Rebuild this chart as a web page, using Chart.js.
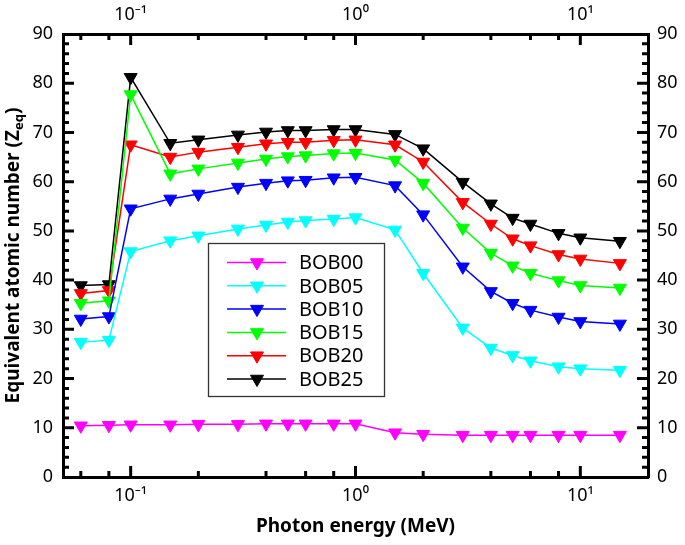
<!DOCTYPE html>
<html>
<head>
<meta charset="utf-8">
<script src="https://cdn.jsdelivr.net/npm/chart.js@4.4.1/dist/chart.umd.min.js"></script>
<style>
  html, body { margin: 0; padding: 0; background: #fff; }
  #wrap { width: 685px; height: 545px; }
</style>
</head>
<body>
<div id="wrap"><canvas id="chart" width="685" height="545"></canvas></div>
<script>
// photon energies (MeV)
const energies = [0.06, 0.08, 0.1, 0.15, 0.2, 0.3, 0.4, 0.5, 0.6, 0.8, 1, 1.5, 2, 3, 4, 5, 6, 8, 10, 15];

const seriesNames = ["BOB00", "BOB05", "BOB10", "BOB15", "BOB20", "BOB25"];
const seriesColors = ["#ff00ff", "#00ffff", "#0000ff", "#00ff00", "#ff0000", "#000000"];

const bob00 = [10.4, 10.5, 10.6, 10.6, 10.7, 10.7, 10.8, 10.8, 10.8, 10.8, 10.8, 9.0, 8.7, 8.5, 8.5, 8.5, 8.5, 8.5, 8.5, 8.5];
const bob05 = [27.4, 27.8, 45.8, 48.0, 49.0, 50.4, 51.2, 51.8, 52.1, 52.4, 52.7, 50.2, 41.4, 30.3, 26.2, 24.7, 23.6, 22.4, 22.0, 21.7];
const bob10 = [32.1, 32.6, 54.5, 56.5, 57.5, 58.9, 59.7, 60.2, 60.3, 60.8, 60.9, 59.2, 53.3, 42.7, 37.7, 35.3, 33.9, 32.5, 31.6, 31.1];
const bob15 = [35.3, 35.8, 77.7, 61.6, 62.6, 63.8, 64.6, 65.1, 65.3, 65.7, 65.8, 64.4, 59.7, 50.6, 45.5, 42.9, 41.4, 39.9, 38.9, 38.4];
const bob20 = [37.3, 37.9, 67.5, 65.0, 66.0, 67.0, 67.7, 68.0, 68.0, 68.4, 68.5, 67.5, 64.0, 55.8, 51.4, 48.4, 47.0, 45.2, 44.3, 43.4];
const bob25 = [38.9, 39.1, 81.2, 67.8, 68.5, 69.5, 70.1, 70.4, 70.4, 70.6, 70.6, 69.6, 66.7, 59.9, 55.5, 52.6, 51.4, 49.5, 48.6, 47.9];
const seriesValues = [bob00, bob05, bob10, bob15, bob20, bob25];

// axis ticks
const xTickValues = [0.1, 1, 10];
const xTickLabels = ["10⁻¹", "10⁰", "10¹"];
const xMinorTicks = [0.06, 0.08, 0.2, 0.4, 0.6, 0.8, 2, 4, 6, 8];
const yMajorTicks = [10, 20, 30, 40, 50, 60, 70, 80];
const yMinorTicks = [2, 4, 6, 8, 12, 14, 16, 18, 22, 24, 26, 28, 32, 34, 36, 38, 42, 44, 46, 48,
                     52, 54, 56, 58, 62, 64, 66, 68, 72, 74, 76, 78, 82, 84, 86, 88];

Chart.defaults.font.family = '"Noto Sans", "DejaVu Sans", sans-serif';
Chart.defaults.color = "#000";

const tickFont = { size: 18 };

// inward tick marks on all four sides
const frameTicks = {
  id: "frameTicks",
  afterDraw(chart) {
    const { ctx, chartArea: a, scales } = chart;
    const x = scales.x, y = scales.y;
    ctx.save();
    ctx.strokeStyle = "#000";
    ctx.lineWidth = 3;
    ctx.beginPath();
    const hTick = (v, len) => {
      const p = y.getPixelForValue(v);
      ctx.moveTo(a.left, p); ctx.lineTo(a.left + len, p);
      ctx.moveTo(a.right, p); ctx.lineTo(a.right - len, p);
    };
    const vTick = (v, len) => {
      const p = x.getPixelForValue(v);
      ctx.moveTo(p, a.bottom); ctx.lineTo(p, a.bottom - len);
      ctx.moveTo(p, a.top); ctx.lineTo(p, a.top + len);
    };
    yMajorTicks.forEach(v => hTick(v, 11));
    yMinorTicks.forEach(v => hTick(v, 6));
    xTickValues.forEach(v => vTick(v, 11));
    xMinorTicks.forEach(v => vTick(v, 6));
    ctx.stroke();
    ctx.restore();
  }
};

// y title with subscript
const yTitle = {
  id: "yTitle",
  afterDraw(chart) {
    const { ctx, chartArea: a } = chart;
    const mainFont = 'bold 19px "Noto Sans"';
    const subFont = 'bold 13px "Noto Sans"';
    const main = "Equivalent atomic number (Z", sub = "eq", end = ")";
    ctx.save();
    ctx.translate(14, (a.top + a.bottom) / 2);
    ctx.rotate(-Math.PI / 2);
    ctx.fillStyle = "#000";
    ctx.textBaseline = "middle";
    ctx.textAlign = "left";
    ctx.font = mainFont;
    const w1 = ctx.measureText(main).width, w3 = ctx.measureText(end).width;
    ctx.font = subFont;
    const w2 = ctx.measureText(sub).width;
    let cx = -(w1 + w2 + w3) / 2;
    ctx.font = mainFont;
    ctx.fillText(main, cx, 0); cx += w1;
    ctx.font = subFont;
    ctx.fillText(sub, cx, 5); cx += w2;
    ctx.font = mainFont;
    ctx.fillText(end, cx, 0);
    ctx.restore();
  }
};

// boxed legend inside the plot
const boxLegend = {
  id: "boxLegend",
  afterDraw(chart) {
    const ctx = chart.ctx;
    ctx.save();
    ctx.strokeStyle = "#333";
    ctx.lineWidth = 1.3;
    ctx.strokeRect(208.5, 243.5, 176, 153);
    ctx.font = '20px "Noto Sans"';
    ctx.textBaseline = "middle";
    ctx.textAlign = "left";
    chart.data.datasets.forEach((ds, i) => {
      const ly = 262.5 + i * 23.3;
      ctx.strokeStyle = ds.borderColor;
      ctx.lineWidth = 1.5;
      ctx.beginPath();
      ctx.moveTo(227, ly); ctx.lineTo(286, ly);
      ctx.stroke();
      ctx.fillStyle = ds.backgroundColor;
      ctx.strokeStyle = ds.borderColor;
      ctx.lineWidth = 1;
      Chart.helpers.drawPoint(ctx, { pointStyle: "triangle", radius: 7.5, rotation: 180, borderWidth: 1 }, 257, ly);
      ctx.fillStyle = "#000";
      ctx.fillText(ds.label, 299, ly + 1);
    });
    ctx.restore();
  }
};

const datasets = seriesNames.map((name, i) => ({
  label: name,
  data: energies.map((e, j) => ({ x: e, y: seriesValues[i][j] })),
  borderColor: seriesColors[i],
  backgroundColor: seriesColors[i],
  borderWidth: 1.5,
  pointStyle: "triangle",
  pointRotation: 180,
  pointRadius: 7.5,
  pointBorderWidth: 1,
  tension: 0,
  clip: false,
}));

const logAxis = (position, height) => ({
  type: "logarithmic",
  position,
  min: 0.05,
  max: 20,
  afterBuildTicks: (s) => { s.ticks = xTickValues.map(v => ({ value: v })); },
  afterFit: (s) => { s.height = height; },
  grid: { display: false, drawTicks: false },
  border: { display: true, color: "#000", width: 3 },
  ticks: {
    font: tickFont,
    color: "#000",
    padding: 8,
    autoSkip: false,
    maxRotation: 0,
    callback: (v) => { const k = xTickValues.indexOf(v); return k >= 0 ? xTickLabels[k] : ""; },
  },
});

const linAxis = (position, width, pad) => ({
  type: "linear",
  position,
  min: 0,
  max: 90,
  afterFit: (s) => { s.width = width; },
  grid: { display: false, drawTicks: false },
  border: { display: true, color: "#000", width: 3 },
  ticks: { stepSize: 10, font: tickFont, color: "#000", padding: pad },
});

const xBottom = logAxis("bottom", 68);
xBottom.title = {
  display: true,
  text: "Photon energy (MeV)",
  font: { size: 19, weight: "bold" },
  color: "#000",
  padding: { top: 0, bottom: 7 },
};

new Chart(document.getElementById("chart"), {
  type: "line",
  data: { datasets },
  options: {
    responsive: false,
    animation: false,
    layout: { padding: 0 },
    plugins: { legend: { display: false }, tooltip: { enabled: false } },
    scales: {
      x: xBottom,
      x2: logAxis("top", 34),
      y: linAxis("left", 63, 10),
      y2: linAxis("right", 37, 9),
    },
  },
  plugins: [frameTicks, yTitle, boxLegend],
});
</script>
</body>
</html>
